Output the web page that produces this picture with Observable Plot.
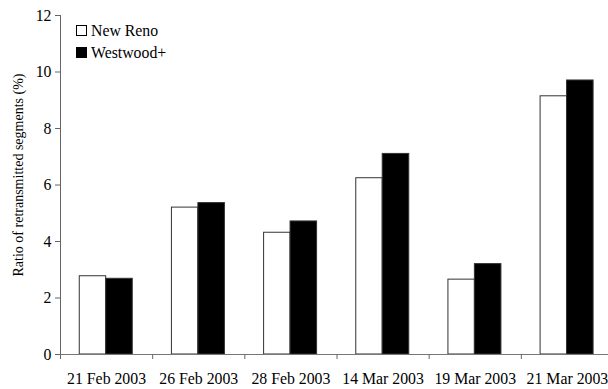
<!DOCTYPE html>
<html>
<head>
<meta charset="utf-8">
<script src="https://cdn.jsdelivr.net/npm/d3@7"></script>
<script src="https://cdn.jsdelivr.net/npm/@observablehq/plot@0.6"></script>
<style>
  body { margin: 0; background: #fff; }
  #chart { position: relative; width: 608px; height: 389px; font-family: "Liberation Serif", "Times New Roman", serif; }
  .legend { position: absolute; left: 76px; top: 20px; font-size: 15.8px; line-height: 22px; color: #000; }
  .legend .sw { display: inline-block; width: 9px; height: 9px; border: 1px solid #000; margin-right: 4px; vertical-align: 0px; }
</style>
</head>
<body>
<div id="chart"></div>
<script>
// Measurement dates (one group of bars each)
const dates = ["21 Feb 2003", "26 Feb 2003", "28 Feb 2003", "14 Mar 2003", "19 Mar 2003", "21 Mar 2003"];
// Ratio of retransmitted segments (%)
const newReno  = [2.77, 5.20, 4.31, 6.24, 2.65, 9.14];
const westwood = [2.68, 5.36, 4.71, 7.10, 3.20, 9.70];
const series = ["New Reno", "Westwood+"];
const yTicks = [0, 2, 4, 6, 8, 10, 12];
const yLabel = "Ratio of retransmitted segments (%)";

const rows = dates.flatMap((date, i) => [
  {i, date, series: series[0], value: newReno[i]},
  {i, date, series: series[1], value: westwood[i]}
]);

// Each date occupies one unit on x; its two bars sit side by side in the middle.
const slot = {"New Reno": [0.209, 0.496], "Westwood+": [0.496, 0.784]};

const W = 608, H = 389;
const chart = Plot.plot({
  width: W,
  height: H,
  marginLeft: 60,
  marginRight: 0,
  marginTop: 15,
  marginBottom: 35,
  style: {fontFamily: "'Liberation Serif', 'Times New Roman', serif", fontSize: "15.8px", color: "#000", background: "#fff"},
  x: {domain: [0, dates.length], range: [60, 613]},
  y: {domain: [0, 12]},
  color: {domain: series, range: ["#ffffff", "#000000"]},
  marks: [
    Plot.rectY(rows, {
      x1: d => d.i + slot[d.series][0],
      x2: d => d.i + slot[d.series][1],
      y: "value",
      fill: "series",
      stroke: "#333",
      strokeWidth: 1
    }),
    Plot.ruleX([0], {stroke: "#666"}),
    Plot.ruleY([0], {stroke: "#777"}),
    Plot.axisY({ticks: yTicks, tickSize: 5, tickPadding: 4, stroke: "#666", label: null, fontSize: 15.8}),
    // rotated axis title, sitting slightly above the middle of the frame
    Plot.text([yLabel], {frameAnchor: "left", textAnchor: "middle", rotate: -90, dx: -42, dy: -10, fontSize: 14, fill: "#000"}),
    Plot.axisX({ticks: d3.range(dates.length + 1), tickSize: 5, tickFormat: () => "", stroke: "#666"}),
    Plot.axisX({
      ticks: dates.map((_, i) => i + 0.5), tickSize: 0, tickPadding: 18, fontSize: 15.8,
      tickFormat: v => dates[Math.round(v - 0.5)]
    })
  ]
});
document.getElementById("chart").appendChild(chart);

// Legend in the upper-left of the plot area
const legend = document.createElement("div");
legend.className = "legend";
legend.innerHTML = series.map((s, k) =>
  `<div><span class="sw" style="background:${k === 0 ? "#fff" : "#000"}"></span>${s}</div>`
).join("");
document.getElementById("chart").appendChild(legend);
</script>
</body>
</html>
